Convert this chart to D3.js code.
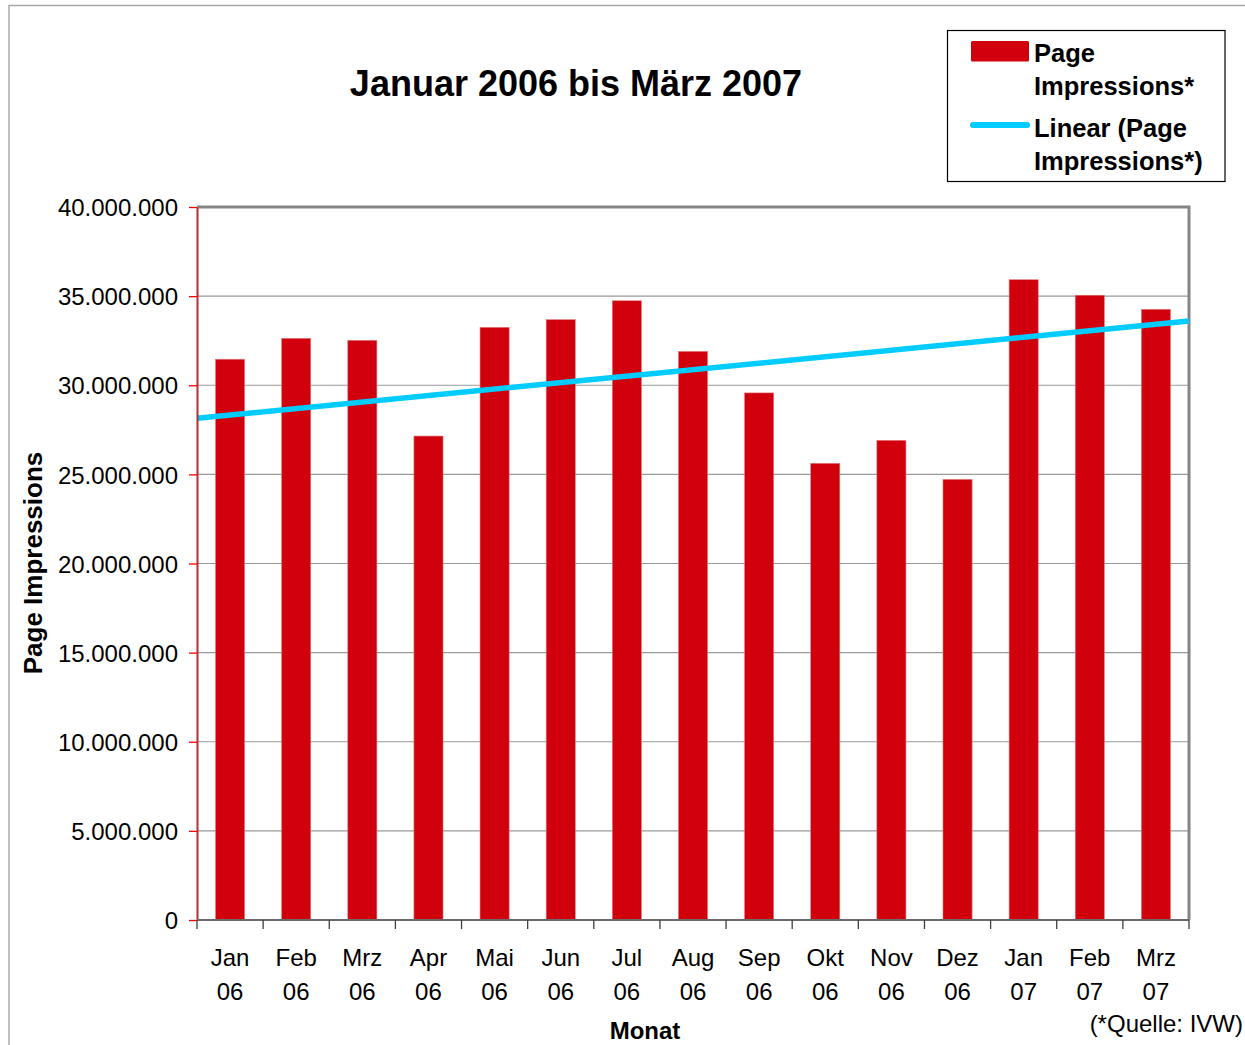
<!DOCTYPE html>
<html>
<head>
<meta charset="utf-8">
<script src="https://cdn.jsdelivr.net/npm/d3@7"></script>
<style>
  body { margin: 0; background: #fff; }
  svg text { font-family: "Liberation Sans", Arial, sans-serif; fill: #000; }
</style>
</head>
<body>
<svg id="chart" width="1245" height="1045"></svg>
<script>
// chart data
var monthNames = ["Jan", "Feb", "Mrz", "Apr", "Mai", "Jun", "Jul", "Aug", "Sep", "Okt", "Nov", "Dez", "Jan", "Feb", "Mrz"];
var monthYears = ["06", "06", "06", "06", "06", "06", "06", "06", "06", "06", "06", "06", "07", "07", "07"];
var pageImpressions = [31460000, 32630000, 32520000, 27150000, 33250000, 33680000, 34740000, 31900000,
                       29570000, 25620000, 26910000, 24720000, 35920000, 35050000, 34260000];
// linear trend value at the left and right edge of the plot area
var trendEnds = [28150000, 33600000];
var yTicks = [0, 5000000, 10000000, 15000000, 20000000, 25000000, 30000000, 35000000, 40000000];

var svg = d3.select("#chart");

var plot = { left: 197, right: 1189, top: 207, bottom: 920 };

// german number format: 40.000.000
var de = d3.formatLocale({ decimal: ",", thousands: ".", grouping: [3], currency: ["", " €"] });
var fmt = de.format(",d");

var keys = monthNames.map(function (m, i) { return i; });

var xScale = d3.scaleBand()
    .domain(keys)
    .range([plot.left, plot.right])
    .paddingInner(0.56)
    .paddingOuter(0.28);

var yScale = d3.scaleLinear()
    .domain([0, 40000000])
    .range([plot.bottom, plot.top]);

// outer frame (runs off the picture at right and bottom)
svg.append("rect")
    .attr("x", 9).attr("y", 5.5)
    .attr("width", 1300).attr("height", 1100)
    .attr("fill", "none")
    .attr("stroke", "#a8a8a8")
    .attr("stroke-width", 1.5);

// gridlines
svg.append("g").selectAll("line")
    .data(yTicks.slice(1, -1))
    .enter().append("line")
    .attr("x1", plot.left).attr("x2", plot.right)
    .attr("y1", function (d) { return yScale(d); })
    .attr("y2", function (d) { return yScale(d); })
    .attr("stroke", "#9a9a9a")
    .attr("stroke-width", 1.2);

// plot border top + right
svg.append("path")
    .attr("d", "M" + plot.left + "," + plot.top + "H" + plot.right + "V" + plot.bottom)
    .attr("fill", "none")
    .attr("stroke", "#858585")
    .attr("stroke-width", 3);

// bars
svg.append("g").selectAll("rect")
    .data(pageImpressions)
    .enter().append("rect")
    .attr("x", function (d, i) { return xScale(i); })
    .attr("y", function (d) { return yScale(d); })
    .attr("width", xScale.bandwidth())
    .attr("height", function (d) { return plot.bottom - yScale(d); })
    .attr("fill", "#d0000c")
    .attr("stroke", "#e27a7a")
    .attr("stroke-width", 0.6);

// trend line
svg.append("line")
    .attr("x1", plot.left).attr("x2", plot.right)
    .attr("y1", yScale(trendEnds[0]))
    .attr("y2", yScale(trendEnds[1]))
    .attr("stroke", "#00ccff")
    .attr("stroke-width", 5.5);

// y axis
var yAxis = d3.axisLeft(yScale)
    .tickValues(yTicks)
    .tickFormat(fmt)
    .tickSizeInner(8)
    .tickSizeOuter(0)
    .tickPadding(11);

var yG = svg.append("g")
    .attr("transform", "translate(" + plot.left + ",0)")
    .call(yAxis);
yG.select(".domain").attr("stroke", "#b03030").attr("stroke-width", 2);
yG.selectAll(".tick line").attr("stroke", "#ff0000").attr("stroke-width", 1.3);
yG.selectAll(".tick text")
    .attr("font-size", 24)
    .attr("font-family", "Liberation Sans, Arial, sans-serif")
    .attr("fill", "#000")
    .attr("dy", "0.36em");

// x axis line + tick marks at category boundaries
var step = xScale.step();
var boundaries = keys.map(function (i) { return xScale(i) - (step - xScale.bandwidth()) / 2; });
boundaries.push(plot.right);

svg.append("line")
    .attr("x1", plot.left).attr("x2", plot.right)
    .attr("y1", plot.bottom).attr("y2", plot.bottom)
    .attr("stroke", "#6a6a6a")
    .attr("stroke-width", 2.2);

svg.append("g").selectAll("line")
    .data(boundaries)
    .enter().append("line")
    .attr("x1", function (d) { return d; })
    .attr("x2", function (d) { return d; })
    .attr("y1", plot.bottom).attr("y2", plot.bottom + 9)
    .attr("stroke", "#404040")
    .attr("stroke-width", 1.3);

// x labels (two lines)
var xl = svg.append("g").selectAll("text")
    .data(keys)
    .enter().append("text")
    .attr("text-anchor", "middle")
    .attr("font-size", 24)
    .attr("x", function (i) { return xScale(i) + xScale.bandwidth() / 2; })
    .attr("y", 966);
xl.append("tspan")
    .text(function (i) { return monthNames[i]; });
xl.append("tspan")
    .attr("x", function (i) { return xScale(i) + xScale.bandwidth() / 2; })
    .attr("dy", 34)
    .text(function (i) { return monthYears[i]; });

// title
svg.append("text")
    .attr("x", 576).attr("y", 96)
    .attr("text-anchor", "middle")
    .attr("font-size", 36)
    .attr("font-weight", "bold")
    .text("Januar 2006 bis März 2007");

// axis titles
svg.append("text")
    .attr("transform", "translate(42,563) rotate(-90)")
    .attr("text-anchor", "middle")
    .attr("font-size", 26)
    .attr("font-weight", "bold")
    .text("Page Impressions");

svg.append("text")
    .attr("x", 645).attr("y", 1039)
    .attr("text-anchor", "middle")
    .attr("font-size", 24)
    .attr("font-weight", "bold")
    .text("Monat");

svg.append("text")
    .attr("x", 1243).attr("y", 1032)
    .attr("text-anchor", "end")
    .attr("font-size", 24)
    .text("(*Quelle: IVW)");

// legend
var legend = svg.append("g");
legend.append("rect")
    .attr("x", 947.5).attr("y", 30.5)
    .attr("width", 277.5).attr("height", 151)
    .attr("fill", "#fff")
    .attr("stroke", "#000")
    .attr("stroke-width", 1.2);
legend.append("rect")
    .attr("x", 971).attr("y", 41)
    .attr("width", 58).attr("height", 20.5)
    .attr("rx", 1.5)
    .attr("fill", "#d0000c");
legend.append("line")
    .attr("x1", 973).attr("x2", 1027)
    .attr("y1", 125).attr("y2", 125)
    .attr("stroke", "#00ccff")
    .attr("stroke-width", 6)
    .attr("stroke-linecap", "round");

var legendLines = [
    { text: "Page", y: 61.5 },
    { text: "Impressions*", y: 95 },
    { text: "Linear (Page", y: 136.5 },
    { text: "Impressions*)", y: 170 }
];
legend.selectAll("text.lg")
    .data(legendLines)
    .enter().append("text")
    .attr("class", "lg")
    .attr("x", 1034)
    .attr("y", function (d) { return d.y; })
    .attr("font-size", 25.5)
    .attr("font-weight", "bold")
    .text(function (d) { return d.text; });
</script>
</body>
</html>
